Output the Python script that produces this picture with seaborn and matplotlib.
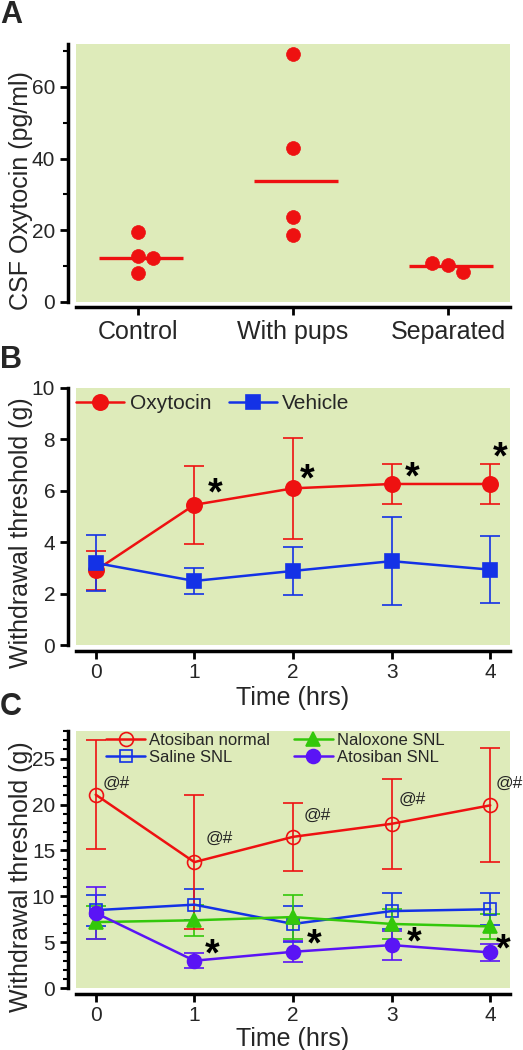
# plot.py
# Three stacked panels: CSF oxytocin per group (A) and withdrawal threshold
# time courses (B, C).

import numpy as np
import pandas as pd
import matplotlib
matplotlib.use("Agg")
import matplotlib.pyplot as plt
import seaborn as sns

# ---- Panel A data ----
GROUPS = ["Control", "With pups", "Separated"]
control = [19.6, 12.8, 12.1, 7.9]
with_pups = [69.2, 42.9, 23.6, 18.7]
separated = [10.7, 10.3, 8.4]
group_medians = [12.3, 33.8, 10.0]

# ---- Panel B data ----
hours = [0, 1, 2, 3, 4]
oxy_mean = [2.9, 5.45, 6.09, 6.26, 6.26]
oxy_err = [0.77, 1.52, 1.96, 0.77, 0.77]
veh_mean = [3.19, 2.49, 2.88, 3.26, 2.93]
veh_err = [1.1, 0.5, 0.93, 1.7, 1.29]
b_star_x = [1.21, 2.14, 3.21, 4.10]
b_star_y = [6.3, 6.85, 6.9, 7.7]

# ---- Panel C data ----
an_mean = [21.07, 13.73, 16.48, 17.9, 19.91]   # Atosiban normal
an_err = [5.9, 7.3, 3.7, 4.9, 6.2]
sal_mean = [8.5, 9.1, 7.0, 8.4, 8.6]            # Saline SNL
sal_err = [1.7, 1.7, 1.95, 2.0, 1.73]
nal_mean = [7.2, 7.4, 7.75, 7.0, 6.73]          # Naloxone SNL
nal_err = [1.8, 1.7, 2.4, 1.6, 1.33]
ats_mean = [8.2, 3.0, 3.97, 4.7, 3.9]           # Atosiban SNL
ats_err = [2.8, 0.83, 1.15, 1.57, 0.9]
c_star_x = [1.18, 2.21, 3.23, 4.13]
c_star_y = [4.8, 5.9, 6.07, 5.4]
c_mark_x = [0.21, 1.25, 2.25, 3.21, 4.19]
c_mark_y = [22.3, 16.3, 18.8, 20.6, 22.3]

# layout only: horizontal nudges of overlapping dots in panel A
a_dx = [[0, 0, 0.1, 0], [0, 0, 0, 0], [-0.1, 0, 0.1]]

RED = "#EE1111"
BLUE = "#1432E6"
GREEN = "#33C80A"
PURPLE = "#5A14F5"
BG = "#DEEBBA"
STAR_FS = 27

sns.set_style("ticks", {"axes.facecolor": BG})
plt.rcParams["font.family"] = ["Liberation Sans", "DejaVu Sans"]

fig = plt.figure(figsize=(5.23, 10.5), dpi=100)
axA = fig.add_axes([0.1453, 0.7127, 0.8298, 0.2454])
axB = fig.add_axes([0.1453, 0.3857, 0.8298, 0.2450])
axC = fig.add_axes([0.1453, 0.0588, 0.8298, 0.2450])


def style_axis(ax):
    for side in ("top", "right"):
        ax.spines[side].set_visible(False)
    ax.spines["left"].set_position(("outward", 6))
    ax.spines["bottom"].set_position(("outward", 4))
    for side in ("left", "bottom"):
        ax.spines[side].set_linewidth(2.5)
        ax.spines[side].set_color("black")
    ax.tick_params(which="major", direction="out", length=6, width=2,
                   labelsize=15, color="black", pad=3)
    ax.tick_params(which="minor", direction="out", length=3.5, width=1.5,
                   color="black")


def draw_series(ax, mean, err, color, marker, ms, label, filled=True):
    df = pd.DataFrame({"Time": hours, "Value": mean})
    ax.errorbar(hours, mean, yerr=err, fmt="none", ecolor=color,
                elinewidth=1.2, capsize=7, capthick=1.2, zorder=3)
    sns.lineplot(data=df, x="Time", y="Value", ax=ax, color=color,
                 marker=marker, markersize=ms,
                 markerfacecolor=color if filled else "none",
                 markeredgecolor=color, markeredgewidth=1.2,
                 linewidth=1.8, label=label, errorbar=None, zorder=4)


def add_stars(ax, xs, ys):
    for x, y in zip(xs, ys):
        ax.annotate("*", (x, y), xytext=(0, -0.57 * STAR_FS),
                    textcoords="offset points", ha="center", va="baseline",
                    fontsize=STAR_FS, fontweight="bold", color="black")


# ---------------- Panel A ----------------
rows = []
for gi, (vals, dxs) in enumerate(zip([control, with_pups, separated], a_dx)):
    for v, d in zip(vals, dxs):
        rows.append({"x": gi + d, "value": v})
dfA = pd.DataFrame(rows)
sns.scatterplot(data=dfA, x="x", y="value", ax=axA, color=RED, s=100,
                edgecolor=RED, linewidth=0.5, zorder=4, legend=False)
for gi, m in enumerate(group_medians):
    axA.hlines(m, gi - 0.25, gi + 0.29, color=RED, lw=2.4, zorder=3)
style_axis(axA)
axA.set_xlim(-0.4, 2.4)
axA.set_ylim(0, 72)
axA.set_xticks(range(len(GROUPS)))
axA.set_xticklabels(GROUPS, fontsize=18)
axA.set_yticks([0, 20, 40, 60])
axA.set_yticks([10, 30, 50, 70], minor=True)
axA.set_xlabel("")
axA.set_ylabel("CSF Oxytocin (pg/ml)", fontsize=18)
axA.yaxis.set_label_coords(-0.10, 0.433)

# ---------------- Panel B ----------------
draw_series(axB, oxy_mean, oxy_err, RED, "o", 11, "Oxytocin")
draw_series(axB, veh_mean, veh_err, BLUE, "s", 10, "Vehicle")
add_stars(axB, b_star_x, b_star_y)
style_axis(axB)
axB.set_xlim(-0.2, 4.2)
axB.set_ylim(0, 10)
axB.set_xticks(hours)
axB.set_yticks([0, 2, 4, 6, 8, 10])
axB.set_xlabel("Time (hrs)", fontsize=18)
axB.set_ylabel("Withdrawal threshold (g)", fontsize=18)
axB.xaxis.set_label_coords(0.5, -0.16)
axB.yaxis.set_label_coords(-0.10, 0.435)
axB.legend(loc="center left", bbox_to_anchor=(0.0, 0.937), ncol=2,
           frameon=False, fontsize=15, handlelength=2.3, handletextpad=0.27,
           columnspacing=0.85, borderpad=0, borderaxespad=0)

# ---------------- Panel C ----------------
draw_series(axC, sal_mean, sal_err, BLUE, "s", 9, "Saline SNL", filled=False)
draw_series(axC, nal_mean, nal_err, GREEN, "^", 10, "Naloxone SNL")
draw_series(axC, ats_mean, ats_err, PURPLE, "o", 10, "Atosiban SNL")
draw_series(axC, an_mean, an_err, RED, "o", 10, "Atosiban normal", filled=False)
add_stars(axC, c_star_x, c_star_y)
for x, y in zip(c_mark_x, c_mark_y):
    axC.text(x, y, "@#", ha="center", va="center", fontsize=12.5)
style_axis(axC)
axC.set_xlim(-0.2, 4.2)
axC.set_ylim(0, 28)
axC.set_xticks(hours)
axC.set_yticks([0, 5, 10, 15, 20, 25])
axC.set_yticks(np.arange(0, 29, 1), minor=True)
axC.set_xlabel("Time (hrs)", fontsize=18)
axC.set_ylabel("Withdrawal threshold (g)", fontsize=18)
axC.xaxis.set_label_coords(0.5, -0.15)
axC.yaxis.set_label_coords(-0.10, 0.4345)
handles, labels = axC.get_legend_handles_labels()
lookup = dict(zip(labels, handles))
order = ["Atosiban normal", "Saline SNL", "Naloxone SNL", "Atosiban SNL"]
axC.legend([lookup[k] for k in order], order, loc="center left",
           bbox_to_anchor=(0.069, 0.931), ncol=2, frameon=False, fontsize=12,
           handlelength=2.35, handletextpad=0.26, columnspacing=1.4,
           labelspacing=0.15, borderpad=0, borderaxespad=0)

# panel letters
for letter, ytop in (("A", 1.0), ("B", 0.6714), ("C", 0.341)):
    fig.text(0.0, ytop, letter, fontsize=22, fontweight="bold", va="top",
             ha="left")

fig.savefig("out.png", dpi=100)
plt.close(fig)
